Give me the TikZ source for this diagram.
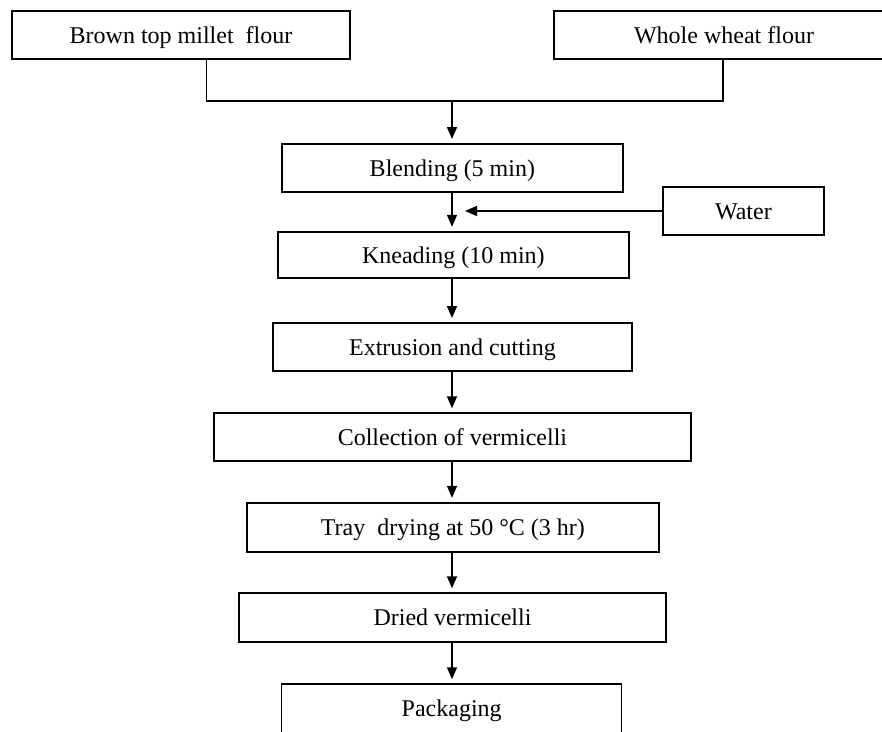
\documentclass[tikz,border=0pt]{standalone}
\usepackage{fontspec}
\setmainfont{Liberation Serif}
\usetikzlibrary{arrows.meta}
\begin{document}
\begin{tikzpicture}[x=1pt,y=-1pt,
  stepbox/.style={draw=black, line width=1.5pt, rectangle, inner sep=0pt,
    font=\fontsize{24}{28}\selectfont, text height=18pt, text depth=2pt, anchor=center},
  heavy/.style={line width=2.3pt},
  conn/.style={line width=1.5pt, draw=black},
  flow/.style={conn, -{Triangle[length=12pt,width=10pt]}, shorten >=4pt}]
\fill[white] (0,0) rectangle (882,731);
\useasboundingbox (0,0) rectangle (882,731);
\clip (0,0) rectangle (882,731);

\node[stepbox, minimum width=338pt, minimum height=48pt] (millet) at (181,35) {Brown top millet\ \ flour};
\node[stepbox, minimum width=340pt, minimum height=48pt] (wheat) at (724,35) {Whole wheat flour};
\node[stepbox, heavy, minimum width=340.7pt, minimum height=47.7pt] (blend) at (452.4,168) {Blending (5 min)};
\node[stepbox, minimum width=161pt, minimum height=48pt] (water) at (743.4,211) {Water};
\node[stepbox, heavy, minimum width=350.7pt, minimum height=46pt] (knead) at (453.4,255) {Kneading (10 min)};
\node[stepbox, heavy, minimum width=359pt, minimum height=47.7pt] (extr) at (452.4,347) {Extrusion and cutting};
\node[stepbox, minimum width=476.7pt, minimum height=48pt] (coll) at (452.4,437) {Collection of vermicelli};
\node[stepbox, heavy, minimum width=412pt, minimum height=49pt] (tray) at (452.9,527.5) {Tray\ \ drying at 50 °C (3 hr)};
\node[stepbox, minimum width=427pt, minimum height=49pt] (dried) at (452.5,617.5) {Dried vermicelli};
\node[stepbox, minimum width=340pt, minimum height=49pt] (pack) at (451.7,708.5) {Packaging};

\coordinate (mj) at (206.7,101);
\coordinate (wj) at (723,101);
\coordinate (cj) at (452,101);
\coordinate (wt) at (452,211);

\draw[conn] (millet.south -| mj) -- (mj) -- (wj) -- (wheat.south -| wj);
\draw[flow] (cj) -- (cj |- blend.north);
\draw[flow] (blend.south -| cj) -- (knead.north -| cj);
\draw[flow, shorten >=13pt] (water.west) -- (wt);
\draw[flow] (knead.south -| cj) -- (extr.north -| cj);
\draw[flow] (extr.south -| cj) -- (coll.north -| cj);
\draw[flow] (coll.south -| cj) -- (tray.north -| cj);
\draw[flow] (tray.south -| cj) -- (dried.north -| cj);
\draw[flow] (dried.south -| cj) -- (pack.north -| cj);
\end{tikzpicture}
\end{document}
